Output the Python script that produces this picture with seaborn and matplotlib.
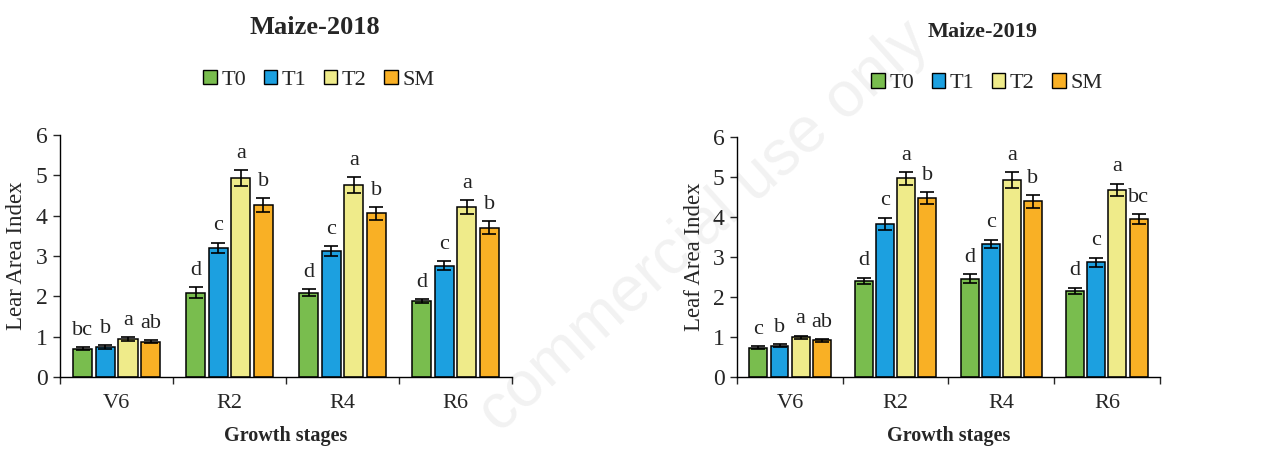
import numpy as np
import pandas as pd
import matplotlib
matplotlib.use("Agg")
import matplotlib.pyplot as plt
import seaborn as sns
from matplotlib.patches import Patch

stages = ["V6", "R2", "R4", "R6"]
treatments = ["T0", "T1", "T2", "SM"]
colors = ["#79BD4E", "#1CA0E0", "#EFEB8A", "#F9B025"]

# Leaf area index per stage (rows) and treatment (columns)
lai_2018 = [[0.70, 0.74, 0.94, 0.87],
            [2.09, 3.20, 4.93, 4.26],
            [2.09, 3.12, 4.76, 4.06],
            [1.88, 2.76, 4.22, 3.70]]
err_2018 = [[0.03, 0.04, 0.04, 0.04],
            [0.13, 0.13, 0.20, 0.17],
            [0.08, 0.13, 0.20, 0.16],
            [0.05, 0.11, 0.17, 0.16]]
sig_2018 = [["bc", "b", "a", "ab"],
            ["d", "c", "a", "b"],
            ["d", "c", "a", "b"],
            ["d", "c", "a", "b"]]

lai_2019 = [[0.73, 0.78, 0.99, 0.91],
            [2.40, 3.82, 4.96, 4.47],
            [2.45, 3.32, 4.92, 4.39],
            [2.15, 2.86, 4.68, 3.94]]
err_2019 = [[0.03, 0.04, 0.04, 0.04],
            [0.08, 0.16, 0.16, 0.15],
            [0.11, 0.11, 0.19, 0.16],
            [0.08, 0.12, 0.15, 0.12]]
sig_2019 = [["c", "b", "a", "ab"],
            ["d", "c", "a", "b"],
            ["d", "c", "a", "b"],
            ["d", "c", "a", "bc"]]

sns.set_theme(style="white")
plt.rcParams["font.family"] = ["Liberation Serif", "DejaVu Serif"]
plt.rcParams["axes.linewidth"] = 1.0


def to_frame(vals, errs, sigs):
    rows = []
    for i, s in enumerate(stages):
        for j, t in enumerate(treatments):
            rows.append({"stage": s, "treatment": t, "lai": vals[i][j],
                         "err": errs[i][j], "sig": sigs[i][j]})
    return pd.DataFrame(rows)


fig = plt.figure(figsize=(12.8, 4.53), dpi=100)

# faint diagonal watermark behind everything
fig.text(0.55, 0.5, "commercial use only", ha="center", va="center",
         rotation=42, fontsize=46, color="#000000", alpha=0.055,
         family=["Liberation Sans", "DejaVu Sans"], zorder=0)

ax1 = fig.add_axes([0.047, 0.168, 0.353, 0.534])
ax2 = fig.add_axes([0.576, 0.168, 0.330, 0.530])
for ax in (ax1, ax2):
    ax.patch.set_alpha(0)

panels = [
    (ax1, to_frame(lai_2018, err_2018, sig_2018), "Lear Area Index"),
    (ax2, to_frame(lai_2019, err_2019, sig_2019), "Leaf Area Index"),
]

for ax, df, ylab in panels:
    sns.barplot(data=df, x="stage", y="lai", hue="treatment",
                order=stages, hue_order=treatments, palette=colors,
                saturation=1, errorbar=None, width=0.8, gap=0.15,
                edgecolor="black", linewidth=1.1, legend=False, ax=ax)
    # error bars and significance letters placed on the drawn bars
    bars = [p for p in ax.patches if p.get_height() > 0]
    for k, t in enumerate(treatments):
        sub = df[df["treatment"] == t].set_index("stage").loc[stages]
        for i, s in enumerate(stages):
            p = bars[k * len(stages) + i]
            xc = p.get_x() + p.get_width() / 2
            v = sub.loc[s, "lai"]
            e = sub.loc[s, "err"]
            ax.errorbar(xc, v, yerr=e, fmt="none", ecolor="black",
                        elinewidth=1.2, capsize=5, capthick=1.2)
            ax.text(xc, v + e + 0.18, sub.loc[s, "sig"], ha="center",
                    va="bottom", fontsize=16, color="#222222")
    ax.set_xlim(-0.5, 3.5)
    ax.set_ylim(0, 6)
    ax.set_yticks(range(0, 7))
    ax.set_xticks([-0.5, 0.5, 1.5, 2.5, 3.5], minor=False)
    ax.set_xticklabels([])
    ax.set_xticks(range(4), minor=True)
    ax.set_xticklabels(stages, minor=True, fontsize=16)
    ax.tick_params(axis="x", which="major", direction="out", length=5,
                   width=1, bottom=True)
    ax.tick_params(axis="x", which="minor", length=0, pad=12)
    ax.tick_params(axis="y", direction="out", length=5, width=1, left=True,
                   labelsize=17, pad=4)
    for side in ["top", "right"]:
        ax.spines[side].set_visible(False)
    for side in ["left", "bottom"]:
        ax.spines[side].set_color("black")
    ax.set_xlabel("Growth stages", fontsize=14.5, fontweight="bold",
                  labelpad=10)
    ax.set_ylabel(ylab, fontsize=16.5, labelpad=6)

handles = [Patch(facecolor=c, edgecolor="black", linewidth=1.0) for c in colors]

fig.text(0.246, 0.94, "Maize-2018", ha="center", va="center",
         fontsize=19, fontweight="bold")
fig.text(0.768, 0.93, "Maize-2019", ha="center", va="center",
         fontsize=16, fontweight="bold")
for xc, yc in [(0.249, 0.823), (0.771, 0.816)]:
    fig.legend(handles, treatments, loc="center", bbox_to_anchor=(xc, yc),
               ncol=4, frameon=False, fontsize=16, handlelength=0.6,
               handleheight=0.6, handletextpad=0.2, columnspacing=0.8)

fig.savefig("out.png", dpi=100, facecolor="white")
